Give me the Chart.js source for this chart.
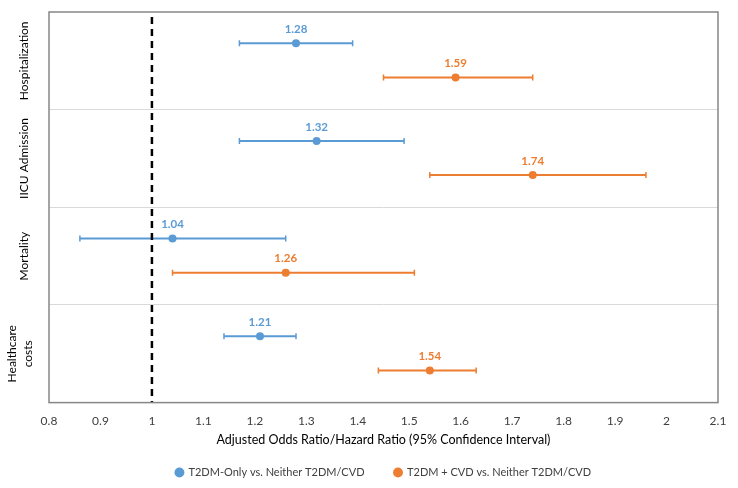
<!DOCTYPE html>
<html>
<head>
<meta charset="utf-8">
<script src="https://cdn.jsdelivr.net/npm/chart.js@4.4.1/dist/chart.umd.min.js"></script>
<style>
  html, body { margin: 0; padding: 0; background: #ffffff; }
  #wrap { width: 738px; height: 488px; }
</style>
</head>
<body>
<div id="wrap"><canvas id="c" width="738" height="488"></canvas></div>
<script>
// ---- data ----
const categories = ['Hospitalization', 'IICU Admission', 'Mortality', ['Healthcare', 'costs']];
const seriesNames = ['T2DM-Only vs. Neither T2DM/CVD', 'T2DM + CVD vs. Neither T2DM/CVD'];
const t2dmOnlyEstimate = [1.28, 1.32, 1.04, 1.21];
const t2dmOnlyLower    = [1.17, 1.17, 0.86, 1.14];
const t2dmOnlyUpper    = [1.39, 1.49, 1.26, 1.28];
const t2dmCvdEstimate  = [1.59, 1.74, 1.26, 1.54];
const t2dmCvdLower     = [1.45, 1.54, 1.04, 1.44];
const t2dmCvdUpper     = [1.74, 1.96, 1.51, 1.63];
const xTicks = [0.8, 0.9, 1, 1.1, 1.2, 1.3, 1.4, 1.5, 1.6, 1.7, 1.8, 1.9, 2, 2.1];
const referenceValue = 1;
const xTitle = 'Adjusted Odds Ratio/Hazard Ratio (95% Confidence Interval)';

const BLUE = '#5B9BD5';
const ORANGE = '#ED7D31';
const FONT = 'Lato, "Open Sans", sans-serif';
const rowOffsets = [0.32, 0.67];

function pointData(est, off) {
  return est.map((v, i) => ({ x: v, y: i + off }));
}
function barData(lo, hi, off) {
  const out = [];
  lo.forEach((l, i) => {
    out.push({ x: l, y: i + off });
    out.push({ x: hi[i], y: i + off });
    out.push({ x: null, y: null });
  });
  return out;
}

const series = [
  { name: seriesNames[0], est: t2dmOnlyEstimate, lo: t2dmOnlyLower, hi: t2dmOnlyUpper, color: BLUE, off: rowOffsets[0] },
  { name: seriesNames[1], est: t2dmCvdEstimate, lo: t2dmCvdLower, hi: t2dmCvdUpper, color: ORANGE, off: rowOffsets[1] }
];

const datasets = [];
series.forEach((s) => {
  datasets.push({
    label: s.name + ' CI',
    isCI: true,
    data: barData(s.lo, s.hi, s.off),
    showLine: true,
    spanGaps: false,
    borderColor: s.color,
    borderWidth: 2,
    pointStyle: 'line',
    rotation: 90,
    pointRadius: 3,
    pointHoverRadius: 3,
    pointBorderWidth: 1.5,
    pointBorderColor: s.color,
    order: 2
  });
});
series.forEach((s) => {
  datasets.push({
    label: s.name,
    isMain: true,
    seriesColor: s.color,
    data: pointData(s.est, s.off),
    showLine: false,
    pointStyle: 'circle',
    pointRadius: 4,
    pointHoverRadius: 4,
    backgroundColor: s.color,
    borderColor: s.color,
    pointBorderWidth: 0,
    order: 1
  });
});

const framePlugin = {
  id: 'frame',
  afterDatasetsDraw(chart) {
    const { ctx, chartArea: a, scales } = chart;
    // reference dashed line
    const xr = scales.x.getPixelForValue(referenceValue);
    ctx.save();
    ctx.strokeStyle = '#000000';
    ctx.lineWidth = 2.5;
    ctx.setLineDash([7, 5]);
    ctx.beginPath();
    ctx.moveTo(xr, a.top + 5);
    ctx.lineTo(xr, a.bottom);
    ctx.stroke();
    ctx.restore();

    // value labels
    ctx.save();
    ctx.font = 'bold 11.5px ' + FONT;
    ctx.textAlign = 'center';
    ctx.textBaseline = 'middle';
    chart.data.datasets.forEach((ds, di) => {
      if (!ds.isMain) return;
      const meta = chart.getDatasetMeta(di);
      ctx.fillStyle = ds.seriesColor;
      meta.data.forEach((pt, i) => {
        ctx.fillText(ds.data[i].x.toFixed(2), pt.x, pt.y - 14);
      });
    });
    ctx.restore();

    // frame
    ctx.save();
    ctx.strokeStyle = '#868686';
    ctx.lineWidth = 1.5;
    ctx.strokeRect(a.left, a.top, a.right - a.left, a.bottom - a.top);
    ctx.restore();

    // category labels (rotated)
    ctx.save();
    ctx.font = '12px ' + FONT;
    ctx.fillStyle = '#000000';
    ctx.textAlign = 'center';
    ctx.textBaseline = 'middle';
    categories.forEach((c, i) => {
      const yc = scales.y.getPixelForValue(i + 0.5);
      const lines = Array.isArray(c) ? c : [c];
      const lh = 16;
      const base = lines.length > 1 ? 20.5 : 24;
      lines.forEach((ln, j) => {
        const xc = base + (j - (lines.length - 1) / 2) * lh;
        ctx.save();
        ctx.translate(xc, yc);
        ctx.rotate(-Math.PI / 2);
        ctx.fillText(ln, 0, 0);
        ctx.restore();
      });
    });
    ctx.restore();
  }
};

new Chart(document.getElementById('c'), {
  type: 'scatter',
  data: { datasets },
  options: {
    responsive: false,
    animation: false,
    devicePixelRatio: 1,
    layout: { padding: { left: 49, right: 20, top: 12, bottom: 0 } },
    plugins: {
      tooltip: { enabled: false },
      legend: {
        position: 'bottom',
        labels: {
          filter: (item, data) => !!data.datasets[item.datasetIndex].isMain,
          usePointStyle: true,
          pointStyle: 'circle',
          boxWidth: 7,
          boxHeight: 7,
          padding: 30,
          color: '#404040',
          font: { family: FONT, size: 11 }
        }
      }
    },
    scales: {
      x: {
        type: 'linear',
        min: xTicks[0],
        max: xTicks[xTicks.length - 1],
        afterBuildTicks: (axis) => { axis.ticks = xTicks.map(v => ({ value: v })); },
        grid: { display: false, drawTicks: false },
        border: { display: false },
        ticks: {
          color: '#404040',
          padding: 11,
          font: { family: FONT, size: 12 },
          callback: (v) => String(Math.round(v * 10) / 10)
        },
        title: {
          display: true,
          text: xTitle,
          color: '#000000',
          padding: { top: -7, bottom: -10 },
          font: { family: FONT, size: 12.5 }
        }
      },
      y: {
        type: 'linear',
        min: 0,
        max: categories.length,
        reverse: true,
        afterBuildTicks: (axis) => { axis.ticks = categories.map((_, i) => ({ value: i })).concat([{ value: categories.length }]); },
        grid: {
          drawTicks: false,
          color: (ctx) => (ctx.tick && (ctx.tick.value === 0 || ctx.tick.value === categories.length)) ? 'rgba(0,0,0,0)' : '#d9d9d9',
          lineWidth: 1
        },
        border: { display: false },
        ticks: { display: false }
      }
    }
  },
  plugins: [framePlugin]
});
</script>
</body>
</html>
